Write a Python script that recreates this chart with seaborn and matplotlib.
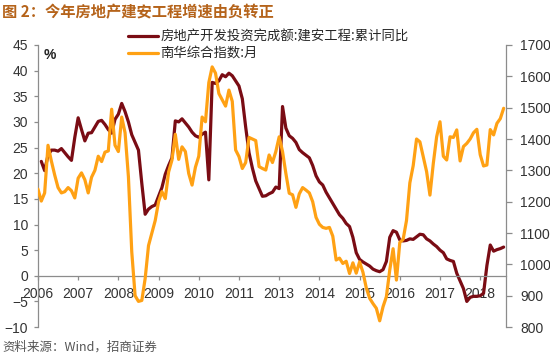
import numpy as np
import pandas as pd
import matplotlib
matplotlib.use("Agg")
import matplotlib.pyplot as plt
import seaborn as sns

# 数据（按图读取的月度估计值）
year_labels = ["2006", "2007", "2008", "2009", "2010", "2011",
               "2013", "2014", "2015", "2016", "2017", "2018"]

construction_yoy = [
    np.nan, 22.3, 20.5, 23.5, 24.5, 24.5, 24.3, 24.8, 24.0, 23.2,
    22.5, 27.0, 30.8, 28.5, 26.3, 27.8, 27.9, 29.0, 30.1, 30.3,
    29.5, 28.5, 27.8, 30.5, 31.5, 33.6, 32.0, 30.0, 27.5, 26.0,
    24.5, 18.0, 12.0, 13.0, 13.5, 13.8, 15.5, 17.2, 19.8, 21.5,
    23.0, 30.2, 30.0, 30.6, 29.8, 29.0, 28.0, 27.3, 27.0, 27.6,
    28.0, 18.7, 37.7, 37.5, 38.0, 39.2, 38.8, 39.5, 39.0, 38.0,
    37.0, 34.5, 29.0, 24.0, 21.0, 18.5, 17.0, 15.5, 15.6, 16.0,
    16.3, 17.3, 17.0, 33.0, 28.8, 27.3, 26.8, 26.0, 24.6, 24.0,
    23.5, 23.0, 21.5, 19.5, 18.3, 17.7, 16.3, 15.2, 14.1, 13.0,
    11.9, 11.2, 10.2, 9.6, 7.5, 4.5, 3.2, 2.7, 2.3, 1.9,
    1.3, 1.0, 0.8, 1.2, 2.8, 7.5, 8.8, 8.5, 7.0, 6.8,
    6.9, 7.2, 7.1, 7.6, 8.1, 8.0, 7.2, 6.8, 6.2, 5.7,
    5.0, 4.5, 3.3, 3.0, 2.8, 0.5, -1.0, -2.5, -5.0, -4.2,
    -4.0, -4.0, -3.9, -3.4, 2.0, 6.0, 4.8, 5.1, 5.3, 5.6,
]

nanhua_index = [
    1240, 1202, 1228, 1380, 1330, 1285, 1245, 1228, 1232, 1245,
    1235, 1212, 1275, 1292, 1270, 1228, 1278, 1300, 1345, 1328,
    1358, 1362, 1495, 1380, 1360, 1470, 1420, 1280, 1040, 900,
    882, 885, 955, 1060, 1100, 1140, 1200, 1232, 1210, 1295,
    1333, 1415, 1335, 1375, 1360, 1290, 1253, 1310, 1345, 1470,
    1455, 1580, 1630, 1610, 1545, 1525, 1505, 1556, 1520, 1365,
    1344, 1306, 1325, 1405, 1400, 1395, 1312, 1306, 1301, 1349,
    1325, 1360, 1407, 1360, 1290, 1227, 1222, 1182, 1225, 1245,
    1237, 1228, 1200, 1150, 1128, 1118, 1115, 1118, 1090, 1014,
    1020, 1003, 1010, 971, 1005, 972, 1008, 975, 925, 892,
    875, 860, 820, 865, 897, 982, 1050, 950, 1070, 1080,
    1140, 1260, 1315, 1400, 1391, 1344, 1296, 1221, 1322, 1407,
    1455, 1345, 1333, 1407, 1405, 1429, 1330, 1376, 1386, 1400,
    1420, 1431, 1350, 1314, 1317, 1430, 1413, 1450, 1465, 1498,
]

red_label = "房地产开发投资完成额:建安工程:累计同比"
orange_label = "南华综合指数:月"

df = pd.DataFrame({
    "idx": np.arange(len(nanhua_index)),
    "yoy": construction_yoy,
    "nanhua": nanhua_index,
})

sns.set_style("white")
plt.rcParams["font.family"] = ["Liberation Sans", "Noto Sans CJK SC", "DejaVu Sans"]

red = "#7A0C14"
orange = "#FFA114"
axis_gray = "#8C8C8C"
text_col = "#333333"

fig = plt.figure(figsize=(5.5, 3.54), dpi=100)
ax = fig.add_axes([0.069, 0.076, 0.851, 0.797])
ax2 = ax.twinx()

sns.lineplot(data=df, x="idx", y="yoy", ax=ax, color=red, linewidth=2.3, label=red_label, legend=False)
sns.lineplot(data=df, x="idx", y="nanhua", ax=ax2, color=orange, linewidth=2.3, label=orange_label, legend=False)

ax.set_xlim(0, 139.7)
ax.set_ylim(-10, 45)
ax.set_yticks(np.arange(-10, 46, 5))
ax2.set_ylim(800, 1700)
ax2.set_yticks(np.arange(800, 1701, 100))

ax.set_xticks(np.arange(len(year_labels)) * 12)
ax.set_xticklabels(year_labels)
ax.set_xlabel("")
ax.set_ylabel("")
ax2.set_ylabel("")

for a in (ax, ax2):
    for s in a.spines.values():
        s.set_color(axis_gray)
        s.set_linewidth(0.9)
    a.spines["top"].set_visible(False)
ax2.spines["bottom"].set_visible(False)
ax2.spines["left"].set_visible(False)
ax.spines["right"].set_visible(False)
ax.spines["bottom"].set_position(("data", 0))

ax.tick_params(axis="y", direction="out", length=3, width=0.9, color=axis_gray,
               labelsize=10, labelcolor=text_col, pad=4, left=True)
ax.tick_params(axis="x", direction="out", length=3, width=0.9, color=axis_gray,
               labelsize=10, labelcolor=text_col, pad=5, bottom=True)
ax2.tick_params(axis="y", direction="out", length=4, width=0.9, color=axis_gray,
                labelsize=10, labelcolor=text_col, pad=6, right=True)

ax.text(0.012, 0.99, "%", transform=ax.transAxes, fontsize=10, fontweight="bold",
        color="#222222", va="top", ha="left")

handles = ax.get_lines()[:1] + ax2.get_lines()[:1]
fig.legend(handles, [red_label, orange_label], loc="upper left",
           bbox_to_anchor=(0.232, 0.915), frameon=False,
           handlelength=2.3, handletextpad=0.15, labelspacing=0.2,
           borderpad=0, borderaxespad=0, prop={"family": ["Noto Sans CJK SC"], "size": 9.6})

fig.text(0.004, 0.965, "图 2：今年房地产建安工程增速由负转正", fontsize=11, fontweight="bold",
         color="#B5631A", va="center", ha="left", family=["Noto Sans CJK SC"])
fig.text(0.004, 0.018, "资料来源：Wind，招商证券", fontsize=9, color="#555555",
         va="center", ha="left", family=["Noto Sans CJK SC", "Liberation Sans"])

fig.savefig("out.png", dpi=100)
